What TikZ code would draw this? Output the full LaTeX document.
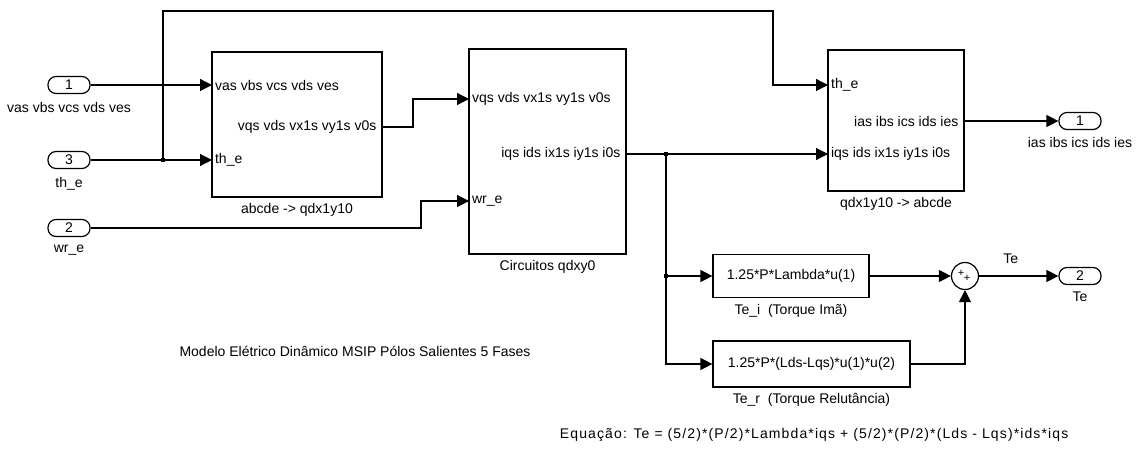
\documentclass[tikz,border=0pt]{standalone}
\usepackage{fontspec}
\setmainfont{Liberation Sans}
\usetikzlibrary{arrows.meta}

\begin{document}
\begin{tikzpicture}[
        x=1pt, y=-1pt,
        font=\fontsize{14}{16}\selectfont,
        line width=1.2pt,
        sig/.style={-{Triangle[length=12pt,width=12pt]}},
        block/.style={draw, inner sep=0pt},
        inport/.style={
          draw,
          rounded corners=8pt,
          minimum width=42pt,
          minimum height=17pt,
          inner sep=0pt
        },
        pin/.style={anchor=west, inner sep=2.5pt},
        pout/.style={anchor=east, inner xsep=5pt, inner ysep=2.5pt},
        junc/.style={fill, minimum size=4pt, inner sep=0pt},
        plus/.style={font=\fontsize{11}{11}\selectfont, inner sep=0pt}
      ]
      \useasboundingbox (0,0) rectangle (1136,448);

      % ports
      \node[inport] (in1) at (69,85) {1};
      \node[below=4pt] (in1lbl) at (in1.south) {vas vbs vcs vds ves};
      \node[inport] (in3) at (69,160) {3};
      \node[below=4pt] (in3lbl) at (in3.south) {th\_e};
      \node[inport] (in2) at (69,228) {2};
      \node[below=4pt] (in2lbl) at (in2.south) {wr\_e};
      \node[inport] (out1) at (1080,121) {1};
      \node[below=3pt] (out1lbl) at (out1.south) {ias ibs ics ids ies};
      \node[inport] (out2) at (1080,276) {2};
      \node[below=3pt] (out2lbl) at (out2.south) {Te};

      % blocks
      \node[block, minimum width=170pt, minimum height=145pt] (abc) at (297,124.5) {};
      \node[below=2pt] (abclbl) at (abc.south) {abcde -> qdx1y10};
      \node[pin] (abcI1) at (212,85) {vas vbs vcs vds ves};
      \node[pin] (abcI2) at (212,160) {th\_e};
      \node[pout] (abcO) at (382,127) {vqs vds vx1s vy1s v0s};

      \node[block, minimum width=157pt, minimum height=205pt] (cir) at (547.5,151.5) {};
      \node[below=2pt] (cirlbl) at (cir.south) {Circuitos qdxy0};
      \node[pin] (cirI1) at (469,99) {vqs vds vx1s vy1s v0s};
      \node[pin] (cirI2) at (469,201) {wr\_e};
      \node[pout] (cirO) at (626,154) {iqs ids ix1s iy1s i0s};

      \node[block, minimum width=136pt, minimum height=141pt] (qdx) at (896,120.5) {};
      \node[below=2pt] (qdxlbl) at (qdx.south) {qdx1y10 -> abcde};
      \node[pin] (qdxI1) at (828,85) {th\_e};
      \node[pin] (qdxI2) at (828,154) {iqs ids ix1s iy1s i0s};
      \node[pout] (qdxO) at (964,121) {ias ibs ics ids ies};

      \node[block, minimum width=156pt, minimum height=43pt] (tei) at (791,276)
        {1.25*P*Lambda*u(1)};
      \node[below=2pt] (teilbl) at (tei.south) {Te\_i\ \ (Torque Imã)};
      \node[block, minimum width=197pt, minimum height=46pt] (ter) at (811.5,364)
        {1.25*P*(Lds-Lqs)*u(1)*u(2)};
      \node[below=2pt] (terlbl) at (ter.south) {Te\_r\ \ (Torque Relutância)};

      \node[draw, circle, minimum size=27pt, inner sep=0pt] (sum) at (965,276) {};
      \node[plus] (sumA) at ([xshift=-4pt, yshift=3pt]sum.center) {+};
      \node[plus] (sumB) at ([xshift=2pt, yshift=-2pt]sum.center) {+};

      % junctions
      \node[junc] (br1) at (163,160) {};
      \node[junc] (br2) at (666,154) {};
      \node[junc] (br3) at (666,276) {};
      \coordinate (k1) at (413,113);
      \coordinate (k2) at (421,214);
      \coordinate (k3) at (773,11);

      % signals
      \draw[sig] (in1.east) -- (abcI1.west);
      \draw[sig] (in3.east) -- (abcI2.west);
      \draw[sig] (br1.center) |- (k3) |- (qdxI1.west);
      \draw[sig] (abcO.east) -| (k1) |- (cirI1.west);
      \draw[sig] (in2.east) -| (k2) |- (cirI2.west);
      \draw[sig] (cirO.east) -- (qdxI2.west);
      \draw[sig] (qdxO.east) -- (out1.west);
      \draw[sig] (br2.center) |- (tei.west);
      \draw[sig] (br3.center) |- (ter.west);
      \draw[sig] (tei.east) -- (sum.west);
      \draw[sig] (ter.east) -| (sum.south);
      \draw[sig] (sum.east) -- node[pos=0.4, above=8pt] (telbl) {Te} (out2.west);

      % notes
      \node (title) at (355,351)
        {Modelo Elétrico Dinâmico MSIP Pólos Salientes 5 Fases};
      \node[anchor=west] (eqn) at (556,435)
        {\addfontfeature{LetterSpace=8}Equação: Te = (5/2)*(P/2)*Lambda*iqs + (5/2)*(P/2)*(Lds - Lqs)*ids*iqs};
    \end{tikzpicture}
\end{document}
